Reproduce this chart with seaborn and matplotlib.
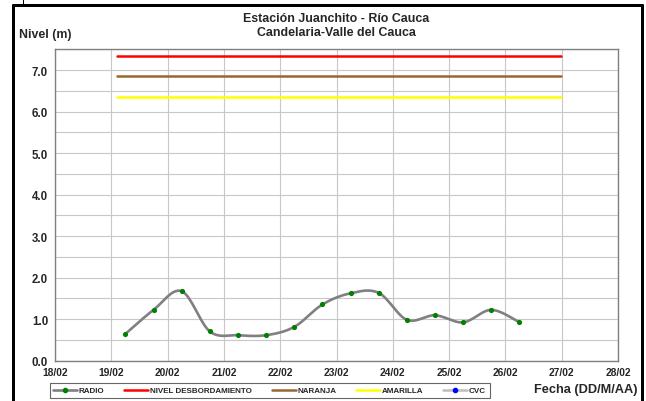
import numpy as np
import pandas as pd
import matplotlib
matplotlib.use("Agg")
import matplotlib.pyplot as plt
import seaborn as sns
from matplotlib.lines import Line2D

# datos (dia del mes de febrero, nivel en m)
fecha = [19.25, 19.75, 20.25, 20.75, 21.25, 21.75, 22.25, 22.75,
         23.25, 23.75, 24.25, 24.75, 25.25, 25.75, 26.25]
nivel = [0.64, 1.22, 1.67, 0.70, 0.61, 0.61, 0.81, 1.35,
         1.62, 1.63, 0.98, 1.09, 0.92, 1.22, 0.92]
umbral_x = [19.11, 26.98]
desborde = 7.35
naranja = 6.85
amarilla = 6.35
dias = list(range(18, 29))
etiquetas_x = ["%02d/02" % d for d in dias]
etiquetas_y = ["%.1f" % v for v in range(0, 8)]


def suavizar(x, y, n=20):
    # curva tipo Excel (bezier con tangentes catmull-rom)
    x = np.asarray(x, float)
    y = np.asarray(y, float)
    px = np.concatenate([[x[0]], x, [x[-1]]])
    py = np.concatenate([[y[0]], y, [y[-1]]])
    xs, ys = [], []
    t = np.linspace(0, 1, n)
    for i in range(1, len(px) - 2):
        p0 = np.array([px[i], py[i]])
        p3 = np.array([px[i + 1], py[i + 1]])
        c1 = p0 + (np.array([px[i + 1], py[i + 1]]) - np.array([px[i - 1], py[i - 1]])) / 6
        c2 = p3 - (np.array([px[i + 2], py[i + 2]]) - np.array([px[i], py[i]])) / 6
        pts = ((1 - t)[:, None] ** 3 * p0 + 3 * ((1 - t) ** 2 * t)[:, None] * c1
               + 3 * ((1 - t) * t ** 2)[:, None] * c2 + (t ** 3)[:, None] * p3)
        xs.extend(pts[:, 0])
        ys.extend(pts[:, 1])
    return np.array(xs), np.array(ys)


sns.set_style("white")
plt.rcParams['font.family'] = ['Liberation Sans', 'DejaVu Sans']
plt.rcParams['font.weight'] = 'bold'

fig = plt.figure(figsize=(6.46, 4.02), dpi=100)
ax = fig.add_axes([55 / 646, 1 - 361.5 / 402, (618 - 55) / 646, (361.5 - 50.3) / 402])

sx, sy = suavizar(fecha, nivel)
curva = pd.DataFrame({"x": sx, "y": sy})
puntos = pd.DataFrame({"x": fecha, "y": nivel})

sns.lineplot(data=curva, x="x", y="y", ax=ax, color="#808080", lw=1.9, sort=False, zorder=3)
sns.scatterplot(data=puntos, x="x", y="y", ax=ax, color="#008000", s=14, edgecolor="#008000",
                linewidth=0, zorder=4)
for val, col in [(desborde, "#ff0000"), (naranja, "#996633"), (amarilla, "#ffff00")]:
    sns.lineplot(x=umbral_x, y=[val, val], ax=ax, color=col, lw=1.8, zorder=3)

ax.set_xlim(18, 28)
ax.set_ylim(0, 7.5)
ax.set_xticks(dias)
ax.set_xticklabels(etiquetas_x, fontsize=7.4, fontweight='bold')
ax.set_yticks(range(0, 8))
ax.set_yticklabels(etiquetas_y, fontsize=8.3, fontweight='bold')
ax.set_yticks(np.arange(0, 7.6, 0.5), minor=True)
ax.grid(True, which='both', color="#c8c8c8", lw=0.8)
ax.set_axisbelow(True)
ax.tick_params(axis='both', which='major', length=3, width=0.8, color="#808080", pad=2)
ax.tick_params(axis='y', which='minor', length=0)
ax.set_xlabel("")
ax.set_ylabel("")
for s in ax.spines.values():
    s.set_color("#808080")
    s.set_linewidth(1)

fig.text(336 / 646, 1 - 19.5 / 402, "Estación Juanchito - Río Cauca", ha='center', va='center',
         fontsize=8.9, fontweight='bold')
fig.text(336 / 646, 1 - 32.5 / 402, "Candelaria-Valle del Cauca", ha='center', va='center',
         fontsize=8.9, fontweight='bold')
fig.text(19 / 646, 1 - 35 / 402, "Nivel (m)", ha='left', va='center', fontsize=8.9, fontweight='bold')
fig.text(637 / 646, 1 - 390 / 402, "Fecha (DD/M/AA)", ha='right', va='center', fontsize=9.2,
         fontweight='bold')

# marco exterior
for xs_, ys_ in [([13.5, 13.5], [402, 5.5]), ([13.5, 641.5], [5.5, 5.5]), ([641.5, 641.5], [5.5, 402]),
                 ([23, 23], [0, 5])]:
    lw = 3 if xs_ != [23, 23] else 1
    fig.add_artist(Line2D([x / 646 for x in xs_], [1 - y / 402 for y in ys_], color="black",
                          lw=lw * 0.72, transform=fig.transFigure))

handles = [
    Line2D([], [], color="#808080", lw=1.9, marker='o', ms=3, mfc="#008000", mec="#008000"),
    Line2D([], [], color="#ff0000", lw=1.8),
    Line2D([], [], color="#996633", lw=1.8),
    Line2D([], [], color="#ffff00", lw=1.8),
    Line2D([], [], color="#c0c0c0", lw=1.9, marker='o', ms=3, mfc="#0000ff", mec="#0000ff"),
]
labels = ["RADIO", "NIVEL DESBORDAMIENTO", "NARANJA", "AMARILLA", "CVC"]
leg = fig.legend(handles, labels, loc='lower left',
                 bbox_to_anchor=(49.5 / 646, 1 - 399 / 402, 440 / 646, 17 / 402),
                 mode='expand', ncol=5, fontsize=5.8, frameon=True, fancybox=False,
                 handlelength=3.0, handletextpad=0.2, borderaxespad=0, borderpad=0.45)
leg.get_frame().set_edgecolor("#404040")
leg.get_frame().set_linewidth(0.8)
for t in leg.get_texts():
    t.set_fontweight('bold')

fig.savefig("out.png", dpi=100)
